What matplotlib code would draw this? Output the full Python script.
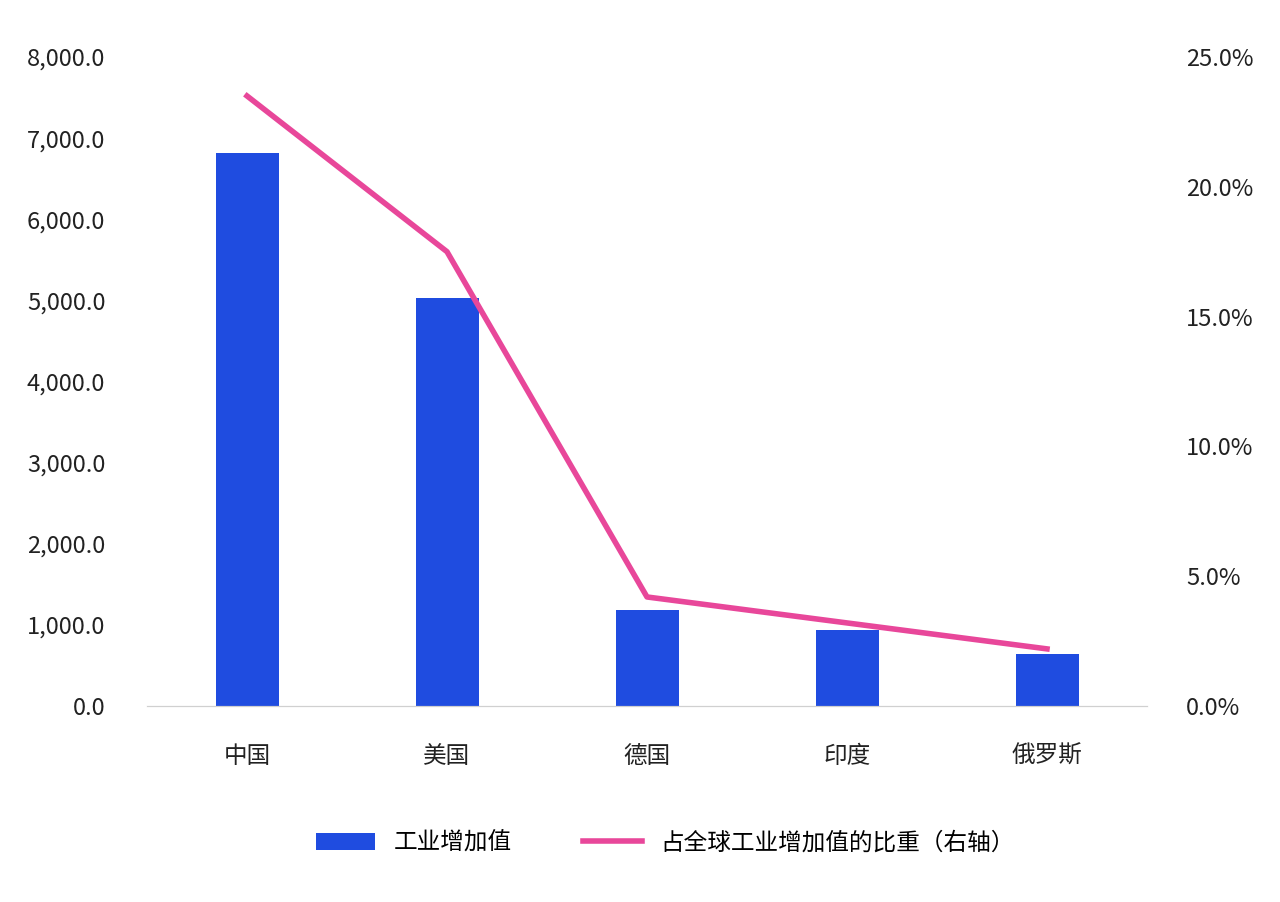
import matplotlib
matplotlib.use("Agg")
import matplotlib.pyplot as plt
from matplotlib.ticker import FuncFormatter

plt.rcParams["font.family"] = ["Noto Sans CJK SC", "DejaVu Sans"]

countries = ["中国", "美国", "德国", "印度", "俄罗斯"]
value_added = [6820, 5030, 1180, 940, 640]
global_share = [23.5, 17.5, 4.2, 3.2, 2.2]

fig = plt.figure(figsize=(12.8, 9.02), dpi=100)
ax = fig.add_axes([147 / 1280, 1 - 706 / 902, 1000 / 1280, 649 / 902])
x = range(len(countries))
ax.bar(x, value_added, width=0.315, color="#1f4ce0", label="工业增加值")
ax.set_ylim(0, 8000)
ax.set_xlim(-0.5, 4.5)
ax.set_yticks(range(0, 8001, 1000))
ax.yaxis.set_major_formatter(FuncFormatter(lambda v, p: f"{v:,.1f}"))
ax.set_xticks(list(x))
ax.set_xticklabels(countries)

ax2 = ax.twinx()
ax2.plot(x, global_share, color="#e8479a", linewidth=4, label="占全球工业增加值的比重（右轴）")
ax2.set_ylim(0, 25)
ax2.set_yticks(range(0, 26, 5))
ax2.yaxis.set_major_formatter(FuncFormatter(lambda v, p: f"{v:.1f}%"))

for a in (ax, ax2):
    for s in ("top", "left", "right"):
        a.spines[s].set_visible(False)
    a.spines["bottom"].set_color("#d0d0d0")
    a.tick_params(length=0, labelsize=17, colors="#222222")
ax.tick_params(axis="y", pad=30)
ax.tick_params(axis="x", pad=28)
ax2.tick_params(axis="y", pad=28)

h1, l1 = ax.get_legend_handles_labels()
h2, l2 = ax2.get_legend_handles_labels()
fig.legend(h1 + h2, l1 + l2, loc="center", bbox_to_anchor=(0.52, 1 - 843 / 902),
           ncol=2, frameon=False, fontsize=17, columnspacing=3, handlelength=2.5)

fig.savefig("out.png", dpi=100)
